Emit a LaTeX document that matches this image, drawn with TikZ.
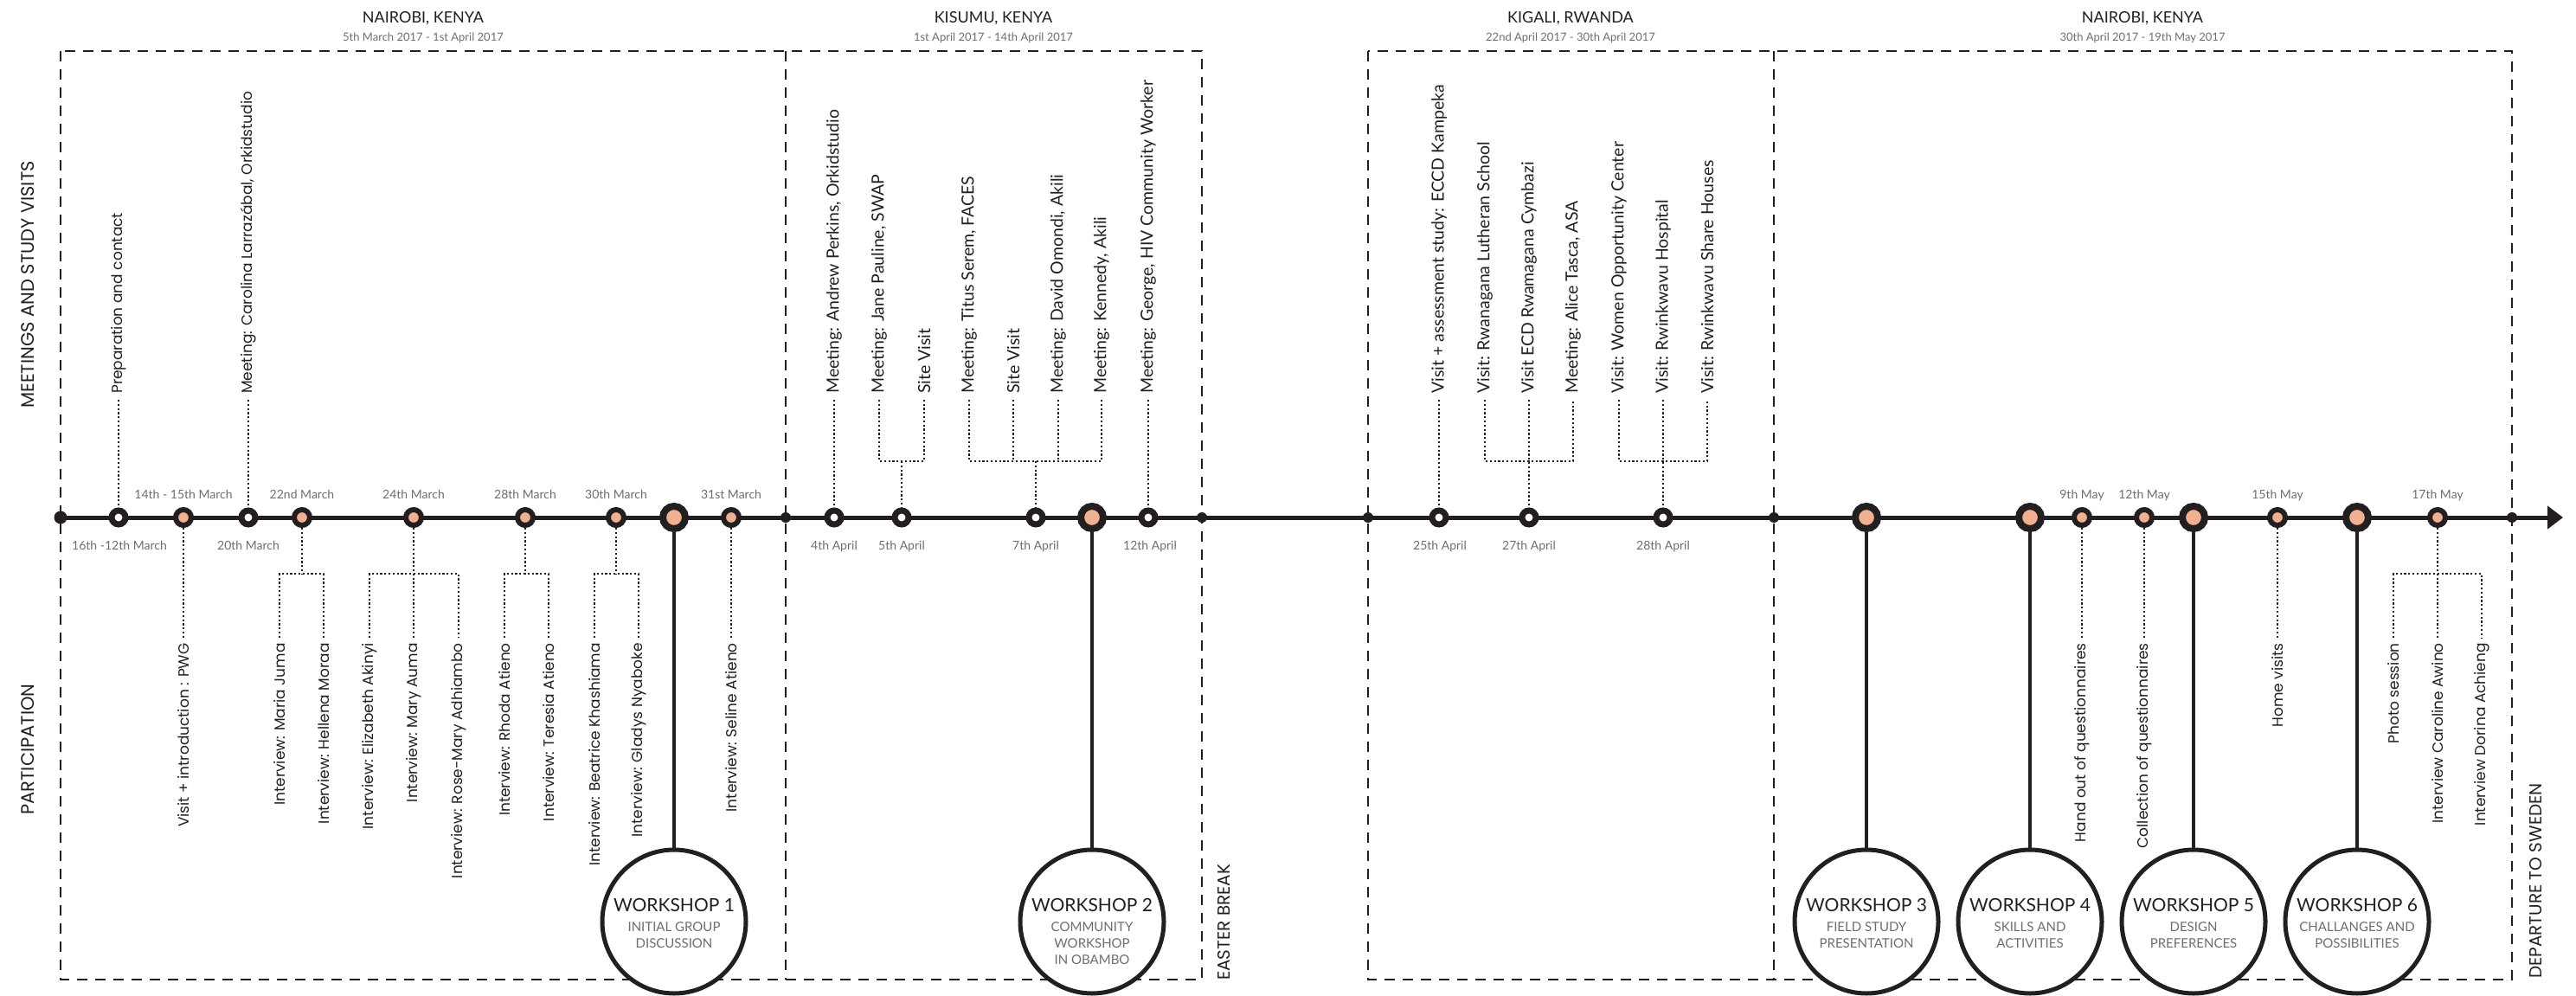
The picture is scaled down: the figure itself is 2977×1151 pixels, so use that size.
\documentclass[tikz,border=0pt]{standalone}
\usepackage{fontspec}
\setmainfont{Lato}
\newfontfamily\widefont{Poppins}
\usetikzlibrary{arrows.meta,backgrounds}

\definecolor{ink}{RGB}{35,31,32}
\definecolor{peach}{RGB}{240,176,146}
\definecolor{greytxt}{RGB}{109,110,113}

\begin{document}
\begin{tikzpicture}[x=1pt, y=-1pt,
    every node/.style={inner sep=0pt, text=ink},
    open/.style={circle, draw=ink, line width=7pt, fill=white, minimum size=16pt},
    visit/.style={circle, draw=ink, line width=6pt, fill=peach, minimum size=18pt},
    work/.style={circle, draw=ink, line width=8pt, fill=peach, minimum size=26pt},
    tick/.style={circle, fill=ink, minimum size=12pt},
    box/.style={draw=ink, line width=2.5pt, dash pattern=on 12pt off 9pt},
    dots/.style={draw=ink, line width=2.2pt, dash pattern=on 2.2pt off 2.6pt},
    stem/.style={draw=ink, line width=4pt},
    up/.style={rotate=90, anchor=west, inner xsep=7pt, font=\fontsize{19.5}{19.5}\selectfont},
    upw/.style={up, font=\widefont\fontsize{17}{17}\selectfont},
    down/.style={rotate=90, anchor=east, inner xsep=6pt, font=\widefont\fontsize{17}{17}\selectfont},
    date/.style={anchor=base, text=greytxt, font=\fontsize{14}{14}\selectfont},
    place/.style={anchor=base, font=\fontsize{18}{18}\selectfont},
    period/.style={anchor=base, text=greytxt, font=\fontsize{13}{13}\selectfont},
    side/.style={rotate=90, font=\widefont\fontsize{21}{21}\selectfont},
    shop/.style={circle, draw=ink, line width=5pt, fill=white, minimum size=166pt},
    shoptext/.style={anchor=north, align=center, text=greytxt, font=\fontsize{15}{19}\selectfont}
]
\useasboundingbox (0,0) rectangle (2977,1151);

% places and periods
\node[place] (r1) at (489,27) {NAIROBI, KENYA};
\node[period] (r1d) at (489,47) {5th March 2017 - 1st April 2017};
\node[place] (r2) at (1148,27) {KISUMU, KENYA};
\node[period] (r2d) at (1148,47) {1st April 2017 - 14th April 2017};
\node[place] (r3) at (1815,27) {KIGALI, RWANDA};
\node[period] (r3d) at (1815,47) {22nd April 2017 - 30th April 2017};
\node[place] (r4) at (2476,27) {NAIROBI, KENYA};
\node[period] (r4d) at (2476,47) {30th April 2017 - 19th May 2017};

\node[side] (s1) at (32,329) {MEETINGS AND STUDY VISITS};
\node[side] (s2) at (32,866) {PARTICIPATION};
\node[side, anchor=west, font=\widefont\fontsize{20}{20}\selectfont] (s3) at (1414,1133) {EASTER BREAK};
\node[side, anchor=west, font=\widefont\fontsize{20}{20}\selectfont] (s4) at (2930,1131) {DEPARTURE TO SWEDEN};

% timeline points
\node[tick, minimum size=15pt] (t0) at (70,598) {};
\node[tick] (t1) at (908,598) {};
\node[tick] (t2) at (1389,598) {};
\node[tick] (t3) at (1581,598) {};
\node[tick] (t4) at (2050,598) {};
\node[tick] (t5) at (2903,598) {};
\coordinate (tend) at (2962,598);

\node[open] (a1) at (137,598) {};
\node[visit] (a2) at (212,598) {};
\node[open] (a3) at (287,598) {};
\node[visit] (a4) at (349,598) {};
\node[visit] (a5) at (478,598) {};
\node[visit] (a6) at (607,598) {};
\node[visit] (a7) at (712,598) {};
\node[work] (a8) at (779,598) {};
\node[visit] (a9) at (845,598) {};

\node[open] (b1) at (964,598) {};
\node[open] (b2) at (1042,598) {};
\node[open] (b3) at (1197,598) {};
\node[work] (b4) at (1262,598) {};
\node[open] (b5) at (1327,598) {};

\node[open] (c1) at (1663,598) {};
\node[open] (c2) at (1767,598) {};
\node[open] (c3) at (1922,598) {};

\node[work] (d1) at (2157,598) {};
\node[work] (d2) at (2346,598) {};
\node[visit] (d3) at (2406,598) {};
\node[visit] (d4) at (2478,598) {};
\node[work] (d5) at (2535,598) {};
\node[visit] (d6) at (2632,598) {};
\node[work] (d7) at (2724,598) {};
\node[visit] (d8) at (2817,598) {};

\begin{scope}[on background layer]
\draw[box] (70,59) rectangle (1389,1132);
\draw[box] (908,59) -- (908,1132);
\draw[box] (1581,59) rectangle (2903,1132);
\draw[box] (2050,59) -- (2050,1132);
\draw[ink, line width=5pt, -{Triangle[length=18pt,width=26pt]}] (t0.center) -- (tend);
\end{scope}

% dates
\node[date] (l1) at (212,576) {14th - 15th March};
\node[date] (l2) at (349,576) {22nd March};
\node[date] (l3) at (478,576) {24th March};
\node[date] (l4) at (607,576) {28th March};
\node[date] (l5) at (712,576) {30th March};
\node[date] (l6) at (845,576) {31st March};
\node[date] (l7) at (2406,576) {9th May};
\node[date] (l8) at (2478,576) {12th May};
\node[date] (l9) at (2632,576) {15th May};
\node[date] (l10) at (2817,576) {17th May};
\node[date] (l11) at (138,635) {16th -12th March};
\node[date] (l12) at (287,635) {20th March};
\node[date] (l13) at (964,635) {4th April};
\node[date] (l14) at (1042,635) {5th April};
\node[date] (l15) at (1197,635) {7th April};
\node[date] (l16) at (1329,635) {12th April};
\node[date] (l17) at (1664,635) {25th April};
\node[date] (l18) at (1767,635) {27th April};
\node[date] (l19) at (1922,635) {28th April};

% meetings and study visits
\node[upw] (m1) at (137,462) {Preparation and contact};
\node[upw] (m2) at (287,462) {Meeting: Carolina Larrazábal, Orkidstudio};
\draw[dots] (m1.west) -- (a1);
\draw[dots] (m2.west) -- (a3);

\node[up] (k1) at (964,462) {Meeting: Andrew Perkins, Orkidstudio};
\node[up] (k2) at (1016,462) {Meeting: Jane Pauline, SWAP};
\node[up] (k3) at (1068,462) {Site Visit};
\node[up] (k4) at (1120,462) {Meeting: Titus Serem, FACES};
\node[up] (k5) at (1171,462) {Site Visit};
\node[up] (k6) at (1223,462) {Meeting: David Omondi, Akili};
\node[up] (k7) at (1273,462) {Meeting: Kennedy, Akili};
\node[up] (k8) at (1327,462) {Meeting: George, HIV Community Worker};
\coordinate (jb2) at (1042,533);
\coordinate (jb3) at (1197,533);
\draw[dots] (k1.west) -- (b1);
\draw[dots] (k2.west) |- (jb2) -| (k3.west);
\draw[dots] (jb2) -- (b2);
\draw[dots] (k4.west) |- (jb3) -| (k7.west);
\draw[dots] (k5.west) -- (k5.west |- jb3);
\draw[dots] (k6.west) -- (k6.west |- jb3);
\draw[dots] (jb3) -- (b3);
\draw[dots] (k8.west) -- (b5);

\node[up] (g1) at (1663,462) {Visit + assessment study: ECCD Kampeka};
\node[up] (g2) at (1716,462) {Visit: Rwanagana Lutheran School};
\node[up] (g3) at (1767,462) {Visit ECD Rwamagana Cymbazi};
\node[up] (g4) at (1818,462) {Meeting: Alice Tasca, ASA};
\node[up] (g5) at (1871,462) {Visit: Women Opportunity Center};
\node[up] (g6) at (1922,462) {Visit: Rwinkwavu Hospital};
\node[up] (g7) at (1973,462) {Visit: Rwinkwavu Share Houses};
\coordinate (jc2) at (1767,533);
\coordinate (jc3) at (1922,533);
\draw[dots] (g1.west) -- (c1);
\draw[dots] (g2.west) |- (jc2) -| (g4.west);
\draw[dots] (g3.west) -- (c2);
\draw[dots] (g5.west) |- (jc3) -| (g7.west);
\draw[dots] (g6.west) -- (c3);

% participation
\node[down] (n1) at (212,737) {Visit + introduction : PWG};
\node[down] (n2) at (323,737) {Interview: Maria Juma};
\node[down] (n3) at (374,737) {Interview: Hellena Moraa};
\node[down] (n4) at (427,737) {Interview: Elizabeth Akinyi};
\node[down] (n5) at (478,737) {Interview: Mary Auma};
\node[down] (n6) at (530,737) {Interview: Rose-Mary Adhiambo};
\node[down] (n7) at (583,737) {Interview: Rhoda Atieno};
\node[down] (n8) at (634,737) {Interview: Teresia Atieno};
\node[down] (n9) at (687,737) {Interview: Beatrice Khashiama};
\node[down] (n10) at (738,737) {Interview: Gladys Nyaboke};
\node[down] (n11) at (845,737) {Interview: Seline Atieno};
\coordinate (ja4) at (349,663);
\coordinate (ja5) at (478,663);
\coordinate (ja6) at (607,663);
\coordinate (ja7) at (712,663);
\draw[dots] (a2) -- (n1.east);
\draw[dots] (a4) -- (ja4);
\draw[dots] (n2.east) |- (ja4) -| (n3.east);
\draw[dots] (a5) -- (n5.east);
\draw[dots] (n4.east) |- (ja5) -| (n6.east);
\draw[dots] (a6) -- (ja6);
\draw[dots] (n7.east) |- (ja6) -| (n8.east);
\draw[dots] (a7) -- (ja7);
\draw[dots] (n9.east) |- (ja7) -| (n10.east);
\draw[dots] (a9) -- (n11.east);

\node[down] (e1) at (2406,737) {Hand out of questionnaires};
\node[down] (e2) at (2478,737) {Collection of questionnaires};
\node[down] (e3) at (2632,737) {Home visits};
\node[down] (e4) at (2766,737) {Photo session};
\node[down] (e5) at (2817,737) {Interview Caroline Awino};
\node[down] (e6) at (2868,737) {Interview Dorina Achieng};
\coordinate (jd8) at (2817,663);
\draw[dots] (d3) -- (e1.east);
\draw[dots] (d4) -- (e2.east);
\draw[dots] (d6) -- (e3.east);
\draw[dots] (d8) -- (e5.east);
\draw[dots] (e4.east) |- (jd8) -| (e6.east);

% workshops
\node[shop] (w1) at (779,1065) {};
\node[shop] (w2) at (1262,1065) {};
\node[shop] (w3) at (2157,1065) {};
\node[shop] (w4) at (2346,1065) {};
\node[shop] (w5) at (2535,1065) {};
\node[shop] (w6) at (2724,1065) {};
\draw[stem] (a8) -- (w1);
\draw[stem] (b4) -- (w2);
\draw[stem] (d1) -- (w3);
\draw[stem] (d2) -- (w4);
\draw[stem] (d5) -- (w5);
\draw[stem] (d7) -- (w6);
\node[shoptext] (w1t) at (779,1038) {{\color{ink}\fontsize{21}{21}\selectfont WORKSHOP 1}\\[4pt]INITIAL GROUP\\DISCUSSION};
\node[shoptext] (w2t) at (1262,1038) {{\color{ink}\fontsize{21}{21}\selectfont WORKSHOP 2}\\[4pt]COMMUNITY\\WORKSHOP\\IN OBAMBO};
\node[shoptext] (w3t) at (2157,1038) {{\color{ink}\fontsize{21}{21}\selectfont WORKSHOP 3}\\[4pt]FIELD STUDY\\PRESENTATION};
\node[shoptext] (w4t) at (2346,1038) {{\color{ink}\fontsize{21}{21}\selectfont WORKSHOP 4}\\[4pt]SKILLS AND\\ACTIVITIES};
\node[shoptext] (w5t) at (2535,1038) {{\color{ink}\fontsize{21}{21}\selectfont WORKSHOP 5}\\[4pt]DESIGN\\PREFERENCES};
\node[shoptext] (w6t) at (2724,1038) {{\color{ink}\fontsize{21}{21}\selectfont WORKSHOP 6}\\[4pt]CHALLANGES AND\\POSSIBILITIES};
\end{tikzpicture}
\end{document}
